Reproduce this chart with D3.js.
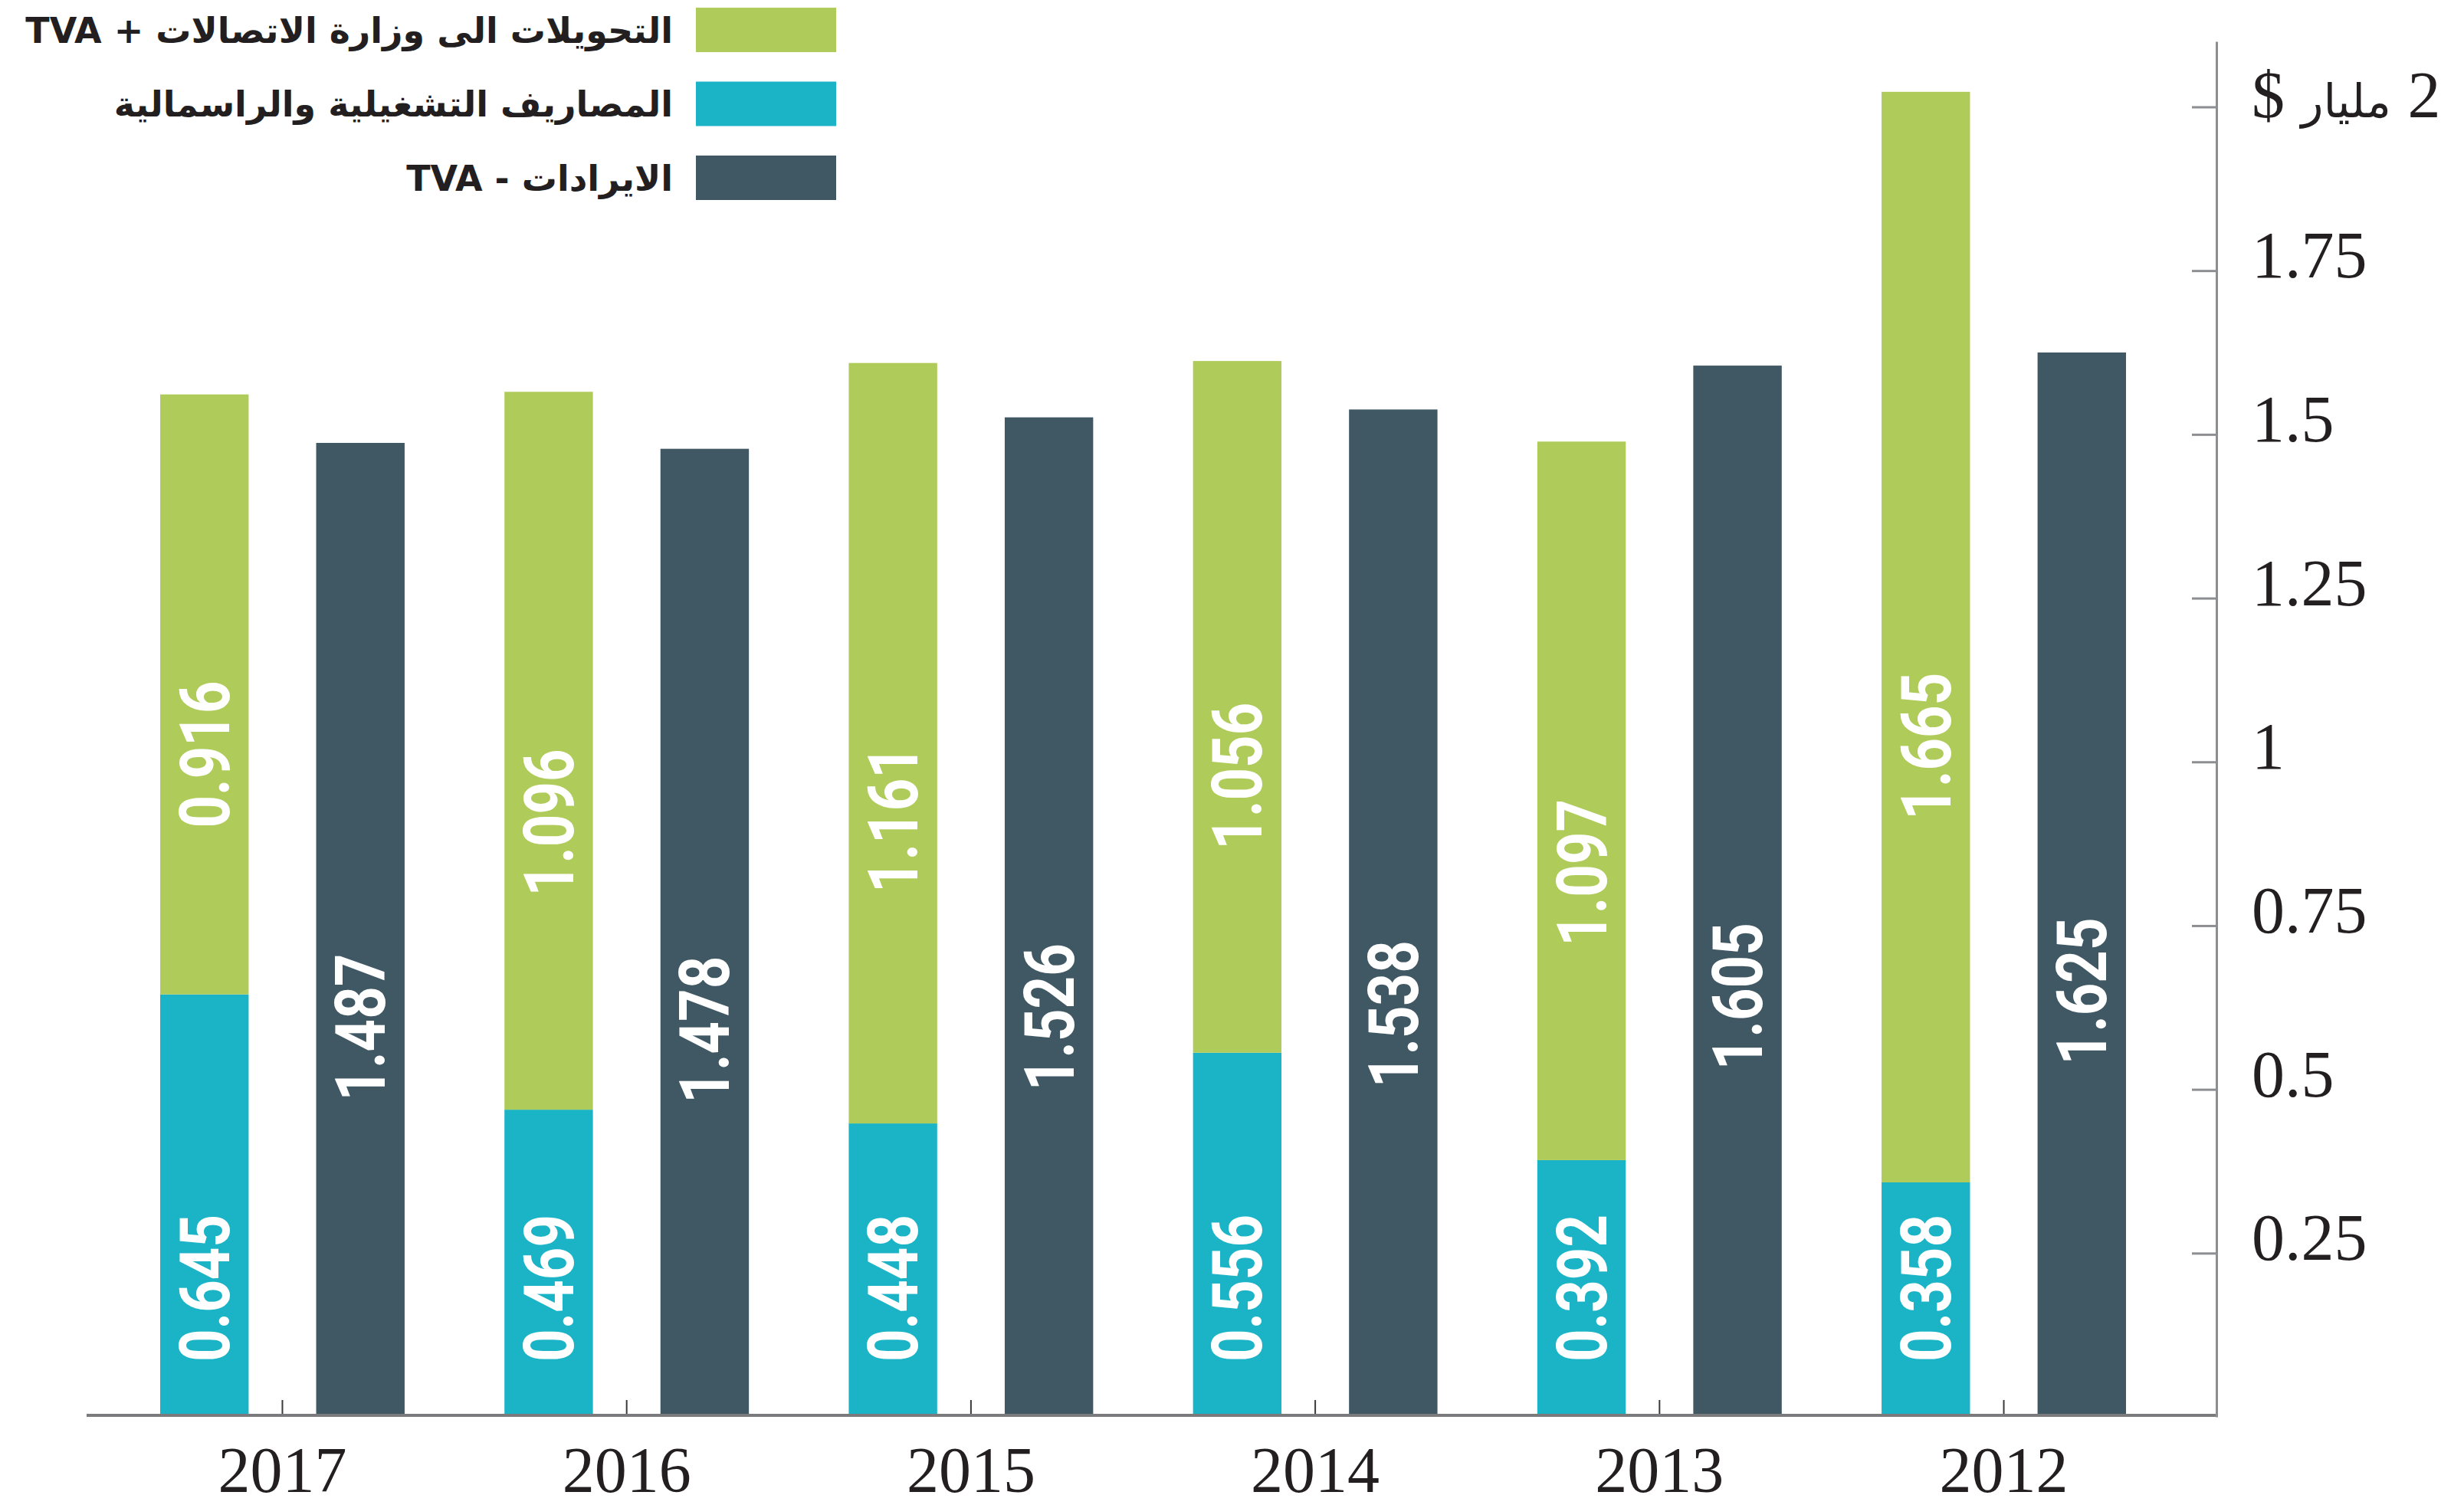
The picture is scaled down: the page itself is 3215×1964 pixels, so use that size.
<!DOCTYPE html>
<html>
<head>
<meta charset="utf-8">
<script src="https://cdn.jsdelivr.net/npm/d3@7"></script>
<style>
  body { margin: 0; background: #fff; }
</style>
</head>
<body>
<div id="chart"></div>
<script>
// values as printed on the bars (billion $)
const years = ['2017', '2016', '2015', '2014', '2013', '2012'];
const expenses = [0.645, 0.469, 0.448, 0.556, 0.392, 0.358];
const transfers = [0.916, 1.096, 1.161, 1.056, 1.097, 1.665];
const revenues = [1.487, 1.478, 1.526, 1.538, 1.605, 1.625];
const yTicks = [0.25, 0.5, 0.75, 1, 1.25, 1.5, 1.75, 2];
const yUnitWord = 'مليار';
const legendKeys = ['transfers', 'expenses', 'revenues'];
const legendLabels = ['التحويلات الى وزارة الاتصالات + TVA', 'المصاريف التشغيلية والراسمالية', 'الايرادات - TVA'];

const colors = { transfers: '#afcb59', expenses: '#1bb4c7', revenues: '#405863' };

drawChart();

function drawChart() {
  const width = 3215;
  const height = 1964;
  const axisX = 2892;
  const baseY = 1847;

  const svg = d3.select('#chart').append('svg')
      .attr('width', width)
      .attr('height', height);

  const rows = years.map((year, i) => ({
    year: year,
    expenses: expenses[i],
    transfers: transfers[i],
    revenues: revenues[i],
  }));

  const x0 = d3.scaleBand(years, [209, 2774]).paddingInner(0.29).paddingOuter(0);
  const x1 = d3.scaleBand(['stack', 'revenues'], [0, x0.bandwidth()]).paddingInner(0.433);
  const y = d3.scaleLinear([0, 2.1], [1849, 54]);

  const stacked = d3.stack().keys(['expenses', 'transfers'])(rows);

  // stacked bars
  svg.append('g')
    .selectAll('g')
    .data(stacked)
    .join('g')
      .attr('fill', s => colors[s.key])
    .selectAll('rect')
    .data(s => s)
    .join('rect')
      .attr('x', d => x0(d.data.year) + x1('stack'))
      .attr('width', x1.bandwidth())
      .attr('y', d => y(d[1]))
      .attr('height', d => y(d[0]) - y(d[1]));

  // revenue bars
  svg.append('g')
    .selectAll('rect')
    .data(rows)
    .join('rect')
      .attr('fill', colors.revenues)
      .attr('x', d => x0(d.year) + x1('revenues'))
      .attr('width', x1.bandwidth())
      .attr('y', d => y(d.revenues))
      .attr('height', d => y(0) - y(d.revenues));

  // value labels, rotated
  const labelData = [];
  rows.forEach(d => {
    const cs = x0(d.year) + x1('stack') + x1.bandwidth() / 2;
    const cr = x0(d.year) + x1('revenues') + x1.bandwidth() / 2;
    labelData.push({ x: cs, y: y(0) - 72, anchor: 'start', value: d.expenses });
    labelData.push({ x: cs, y: y(d.expenses + d.transfers * 0.4), anchor: 'middle', value: d.transfers });
    labelData.push({ x: cr, y: y(d.revenues * 0.4), anchor: 'middle', value: d.revenues });
  });

  svg.append('g')
    .selectAll('text')
    .data(labelData)
    .join('text')
      .attr('transform', d => `translate(${d.x},${d.y}) rotate(-90)`)
      .attr('text-anchor', d => d.anchor)
      .attr('dy', '0.355em')
      .attr('fill', '#fff')
      .attr('font-family', 'Roboto, sans-serif')
      .attr('font-weight', 700)
      .attr('font-size', 90)
      .attr('textLength', 192)
      .attr('lengthAdjust', 'spacingAndGlyphs')
      .text(d => d3.format('.3f')(d.value));

  // baseline
  svg.append('line')
      .attr('x1', 113)
      .attr('x2', axisX)
      .attr('y1', baseY)
      .attr('y2', baseY)
      .attr('stroke', '#7b7b7e')
      .attr('stroke-width', 4);

  // x axis (ticks pointing up, years below)
  const xAxis = d3.axisBottom(x0).tickSize(-18).tickPadding(42);
  const gx = svg.append('g')
      .attr('transform', `translate(0, ${baseY - 2})`)
      .call(xAxis);
  gx.select('.domain').remove();
  gx.selectAll('.tick line').attr('stroke', '#3a3a3a').attr('stroke-width', 2);
  gx.selectAll('.tick text')
      .attr('fill', '#231f20')
      .attr('font-family', '"Liberation Serif", serif')
      .attr('font-size', 84);

  // y axis on the right, ticks pointing left
  const yAxis = d3.axisRight(y)
      .tickValues(yTicks)
      .tickSize(-32)
      .tickSizeOuter(0)
      .tickPadding(46)
      .tickFormat(d3.format('~g'));
  const gy = svg.append('g')
      .attr('transform', `translate(${axisX}, 0)`)
      .call(yAxis);
  gy.select('.domain').attr('stroke', '#8d8e92').attr('stroke-width', 3);
  gy.selectAll('.tick line').attr('stroke', '#8d8e92').attr('stroke-width', 3);
  gy.selectAll('.tick text')
      .attr('fill', '#231f20')
      .attr('font-family', '"Liberation Serif", serif')
      .attr('font-size', 86)
      .attr('dy', '0.1em');

  // top tick carries the unit: "2 مليار $", right-to-left
  const topLabel = gy.selectAll('.tick text')
      .filter(d => d === 2)
      .attr('direction', 'rtl')
      .attr('text-anchor', 'end')
      .attr('dy', '0.15em')
      .text(null);
  topLabel.append('tspan').text('2 ');
  topLabel.append('tspan')
      .attr('font-family', '"DejaVu Sans", sans-serif')
      .attr('font-size', 60)
      .text(yUnitWord);
  topLabel.append('tspan').text(' $');

  // legend
  const legend = svg.append('g')
    .selectAll('g')
    .data(legendKeys)
    .join('g')
      .attr('transform', (d, i) => `translate(0, ${10 + i * 96.5})`);

  legend.append('rect')
      .attr('x', 908)
      .attr('width', 183)
      .attr('height', 58)
      .attr('fill', d => colors[d]);

  legend.append('text')
      .attr('x', 878)
      .attr('y', 29)
      .attr('dy', '0.36em')
      .attr('direction', 'rtl')
      .attr('text-anchor', 'start')
      .attr('fill', '#231f20')
      .attr('font-family', '"DejaVu Sans", sans-serif')
      .attr('font-weight', 700)
      .attr('font-size', 46)
      .text((d, i) => legendLabels[i]);
}
</script>
</body>
</html>
